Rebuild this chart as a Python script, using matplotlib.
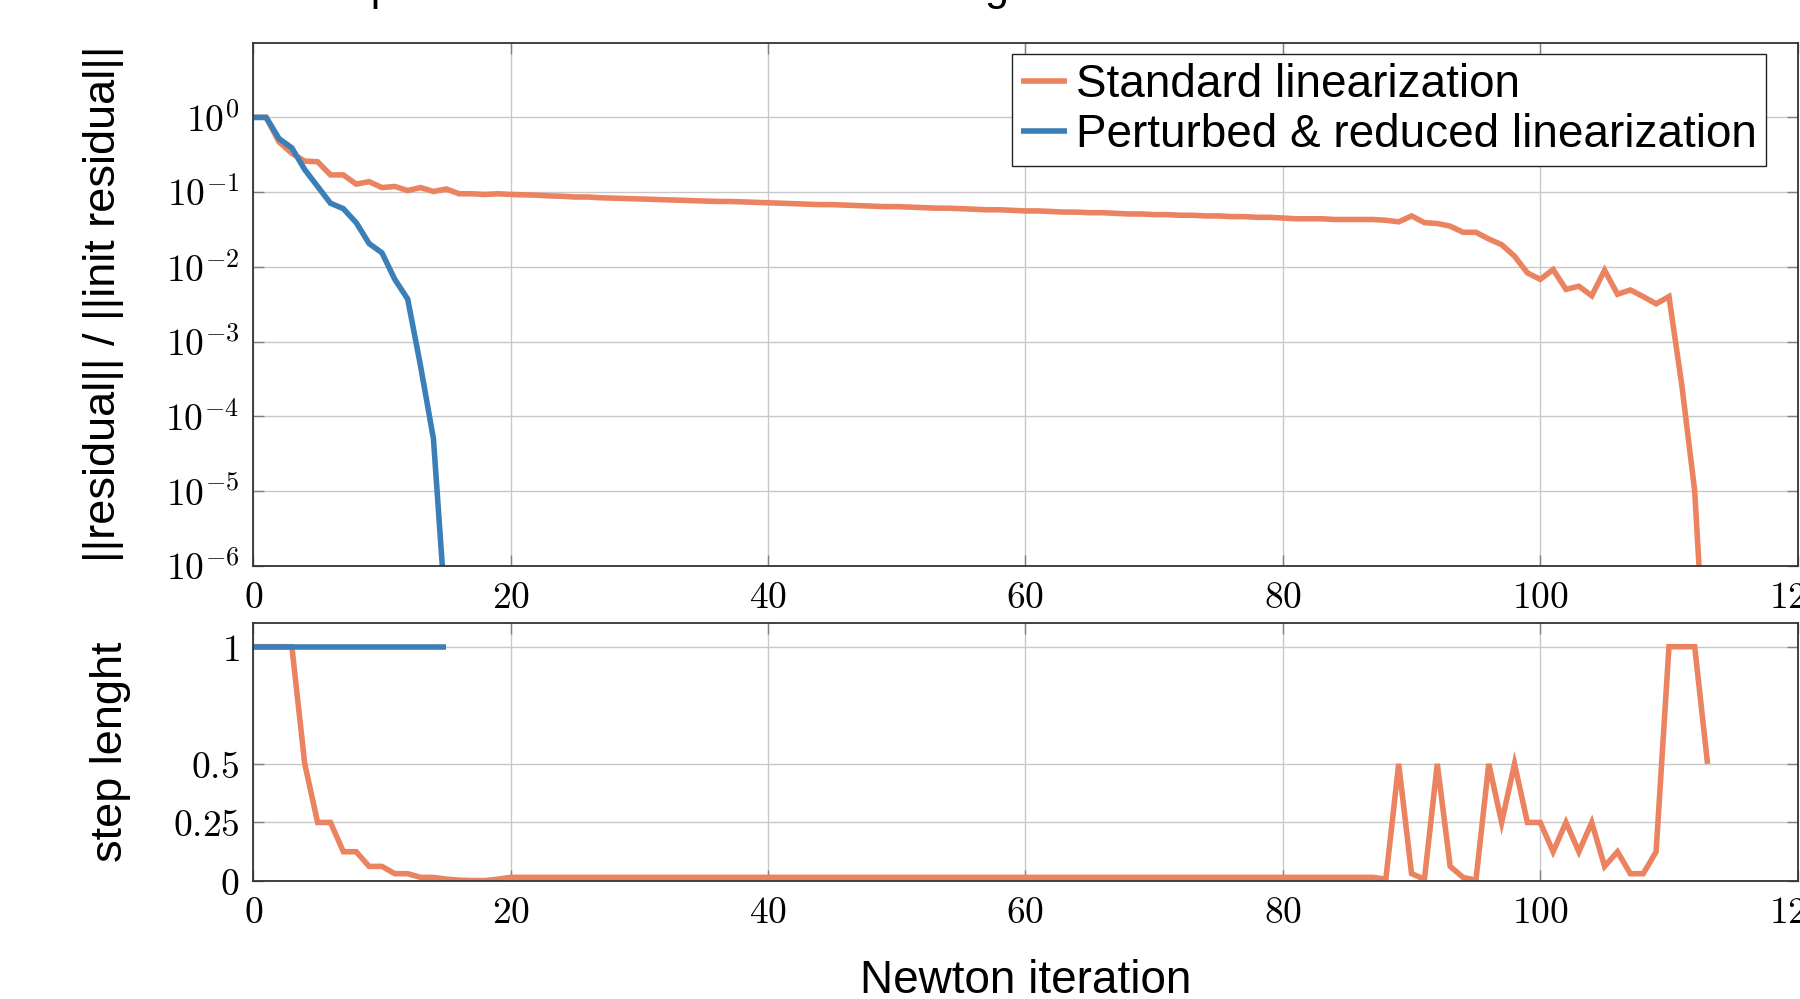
import math
import matplotlib
matplotlib.use("Agg")
import matplotlib.pyplot as plt
from matplotlib.ticker import FuncFormatter, FixedLocator, NullLocator

plt.rcParams['font.family'] = ['Liberation Sans', 'DejaVu Sans']
plt.rcParams['mathtext.fontset'] = 'cm'

# residual history, standard linearization (iterations 0..113)
std_res = [1.0, 1.0, 0.47, 0.33, 0.26, 0.255, 0.17, 0.17, 0.128, 0.138,
           0.115, 0.119, 0.105, 0.115, 0.102, 0.11, 0.095, 0.095, 0.093, 0.095,
           0.093, 0.092, 0.091, 0.089, 0.088, 0.086, 0.086, 0.084, 0.083, 0.082,
           0.081, 0.080, 0.079, 0.078, 0.077, 0.076, 0.075, 0.075, 0.074, 0.073,
           0.072, 0.071, 0.070, 0.069, 0.068, 0.068, 0.067, 0.066, 0.065, 0.064,
           0.064, 0.063, 0.062, 0.061, 0.061, 0.060, 0.059, 0.058, 0.058, 0.057,
           0.056, 0.056, 0.055, 0.054, 0.054, 0.053, 0.053, 0.052, 0.051, 0.051,
           0.050, 0.050, 0.049, 0.049, 0.048, 0.048, 0.047, 0.047, 0.046, 0.046,
           0.045, 0.044, 0.044, 0.044, 0.043, 0.043, 0.043, 0.043, 0.042, 0.040,
           0.048, 0.039, 0.038, 0.035, 0.029, 0.029, 0.0236, 0.0198, 0.0139, 0.0083,
           0.0068, 0.0092, 0.0050, 0.0055, 0.0041, 0.0090, 0.0043, 0.0049, 0.0040, 0.0032,
           0.0040, 2.6e-4, 1.0e-5, 1e-8]

# residual history, perturbed & reduced linearization (iterations 0..15)
pert_res = [1.0, 1.0, 0.52, 0.39, 0.2, 0.119, 0.071, 0.06, 0.039, 0.0205,
            0.0154, 0.0068, 0.0037, 4.7e-4, 5e-5, 1.7e-7]

# step lengths
std_step = ([1, 1, 1, 1, 0.5, 0.25, 0.25, 0.125, 0.125, 0.0625,
             0.0625, 0.03125, 0.03125, 0.0156, 0.0156, 0.0078, 0.0039, 0.002, 0.002, 0.0078]
            + [0.0156] * 68
            + [0.0078, 0.5, 0.03125, 0.0078, 0.5, 0.0625, 0.0156, 0.0039, 0.5, 0.25,
               0.5, 0.25, 0.25, 0.125, 0.25, 0.125, 0.25, 0.0625, 0.125, 0.03125,
               0.03125, 0.125, 1, 1, 1, 0.5])
pert_step = [1] * 16

labels = ["Standard linearization", "Perturbed & reduced linearization"]
c_std = "#eb8260"
c_pert = "#3a7fb8"

it_std = list(range(len(std_res)))
it_pert = list(range(len(pert_res)))

fig = plt.figure(figsize=(18, 9.99), dpi=100)
ax1 = fig.add_axes([0.1407, 0.4337, 0.8580, 0.5236])
ax2 = fig.add_axes([0.1407, 0.1181, 0.8580, 0.2580])

kw = dict(lw=4.0, solid_joinstyle='miter', solid_capstyle='butt')
ax1.plot(it_std, std_res, color=c_std, label=labels[0], **kw)
ax1.plot(it_pert, pert_res, color=c_pert, label=labels[1], **kw)
ax2.plot(it_std, std_step, color=c_std, **kw)
ax2.plot(it_pert, pert_step, color=c_pert, **kw)

ax1.set_yscale('log')
ax1.set_ylim(1e-6, 10)
ax1.yaxis.set_major_locator(FixedLocator([10.0 ** k for k in range(-6, 1)]))
ax1.yaxis.set_minor_locator(NullLocator())
ax1.yaxis.set_major_formatter(FuncFormatter(lambda v, p: r'$10^{%d}$' % round(math.log10(v))))

ax2.set_ylim(0, 1.1)
ax2.set_yticks([0, 0.25, 0.5, 1])
ax2.yaxis.set_major_formatter(FuncFormatter(lambda v, p: r'$%g$' % v))

for ax in (ax1, ax2):
    ax.set_xlim(0, 120)
    ax.set_xticks(range(0, 121, 20))
    ax.xaxis.set_major_formatter(FuncFormatter(lambda v, p: r'$%d$' % v))
    ax.grid(True, color='#c8c8c8', lw=1.0)
    ax.set_axisbelow(True)
    ax.tick_params(direction='in', length=8, width=1.0, color='#808080',
                   top=True, right=True, labelsize=27, pad=10)
    for s in ax.spines.values():
        s.set_color('#333333')
        s.set_linewidth(1.3)

ax1.set_ylabel("||residual|| / ||init residual||", fontsize=32.5, labelpad=30)
ax2.set_ylabel("step lenght", fontsize=32.5, labelpad=30)
ax2.set_xlabel("Newton iteration", fontsize=33, labelpad=20)
fig.align_ylabels([ax1, ax2])

leg = ax1.legend(loc='upper right', bbox_to_anchor=(0.9795, 0.9784), borderaxespad=0,
                 fontsize=33, handlelength=1.0, handletextpad=0.2, labelspacing=0.12,
                 borderpad=0.2, fancybox=False, framealpha=1, edgecolor='#222222')
leg.get_frame().set_linewidth(1.0)

# title sits above the canvas, only its descenders remain visible
fig.text(0.1555, 1.0, "Comparison of Newton solver convergence", fontsize=31, va='baseline')

fig.savefig("out.png", dpi=100)
